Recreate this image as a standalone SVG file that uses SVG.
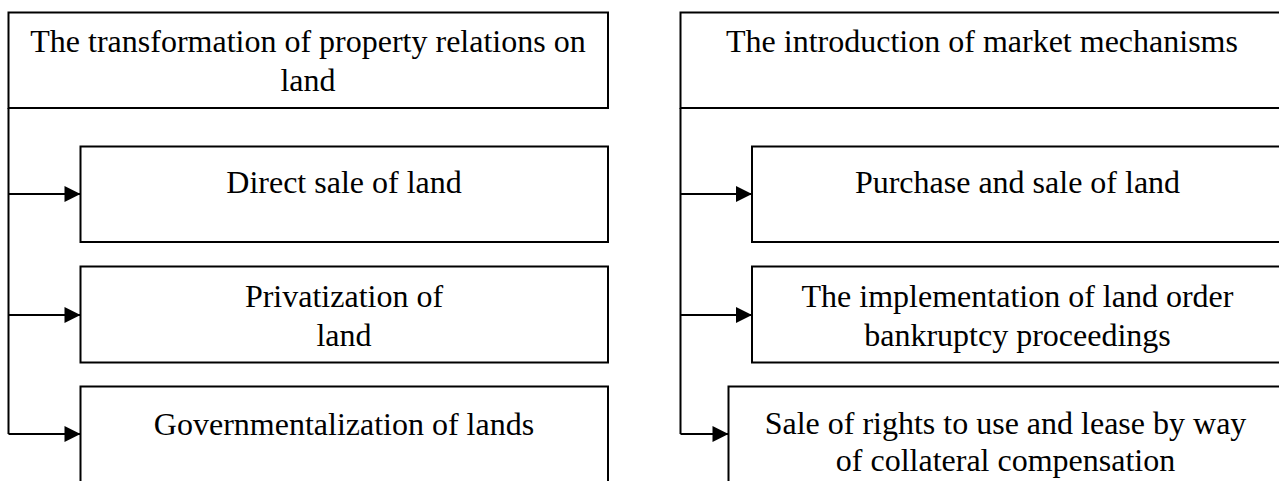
<svg xmlns="http://www.w3.org/2000/svg" width="1279" height="481" viewBox="0 0 1279 481">
  <style>
    .box { fill: #ffffff; stroke: #000000; stroke-width: 2; }
    .wire { fill: none; stroke: #000000; stroke-width: 2; }
    .label { font-family: "Liberation Serif", "Times New Roman", serif; font-size: 32px; fill: #000000; text-anchor: middle; }
  </style>
  <defs>
    <marker id="arrow" markerUnits="userSpaceOnUse" markerWidth="17" markerHeight="17" refX="16" refY="8" orient="auto" overflow="visible">
      <path d="M0,0 L16,8 L0,16 Z" fill="#000000"/>
    </marker>
  </defs>
  <rect width="1279" height="481" fill="#ffffff"/>

  <!-- connectors: trunk down the left edge of each column, branching to the sub-boxes -->
  <g id="connectors">
    <path class="wire" d="M8.5,108 V434"/>
    <line class="wire" x1="8.5" y1="194" x2="80.5" y2="194" marker-end="url(#arrow)"/>
    <line class="wire" x1="8.5" y1="315" x2="80.5" y2="315" marker-end="url(#arrow)"/>
    <line class="wire" x1="8.5" y1="434" x2="80.5" y2="434" marker-end="url(#arrow)"/>

    <path class="wire" d="M680.5,108 V434"/>
    <line class="wire" x1="680.5" y1="194" x2="752" y2="194" marker-end="url(#arrow)"/>
    <line class="wire" x1="680.5" y1="315" x2="752" y2="315" marker-end="url(#arrow)"/>
    <line class="wire" x1="680.5" y1="434" x2="728.5" y2="434" marker-end="url(#arrow)"/>
  </g>

  <!-- left column -->
  <g id="property-relations">
    <rect class="box" x="8.5" y="12.5" width="599.5" height="95.5"/>
    <text class="label" x="308" y="52">The transformation of property relations on</text>
    <text class="label" x="308" y="91">land</text>
  </g>
  <g id="direct-sale">
    <rect class="box" x="80.5" y="146.5" width="527.5" height="95.5"/>
    <text class="label" x="344" y="193">Direct sale of land</text>
  </g>
  <g id="privatization">
    <rect class="box" x="80.5" y="266.5" width="527.5" height="96"/>
    <text class="label" x="344" y="307">Privatization of</text>
    <text class="label" x="344" y="346">land</text>
  </g>
  <g id="governmentalization">
    <rect class="box" x="80.5" y="386.5" width="527.5" height="100"/>
    <text class="label" x="344" y="435">Governmentalization of lands</text>
  </g>

  <!-- right column -->
  <g id="market-mechanisms">
    <rect class="box" x="680.5" y="12.5" width="602.5" height="95.5"/>
    <text class="label" x="982" y="52">The introduction of market mechanisms</text>
  </g>
  <g id="purchase-sale">
    <rect class="box" x="752" y="146.5" width="531" height="95.5"/>
    <text class="label" x="1017.5" y="193">Purchase and sale of land</text>
  </g>
  <g id="bankruptcy">
    <rect class="box" x="752" y="266.5" width="531" height="96"/>
    <text class="label" x="1017.5" y="307">The implementation of land order</text>
    <text class="label" x="1017.5" y="346">bankruptcy proceedings</text>
  </g>
  <g id="rights-lease">
    <rect class="box" x="728.5" y="386.5" width="554.5" height="100"/>
    <text class="label" x="1005.5" y="434">Sale of rights to use and lease by way</text>
    <text class="label" x="1005.5" y="471">of collateral compensation</text>
  </g>
</svg>
